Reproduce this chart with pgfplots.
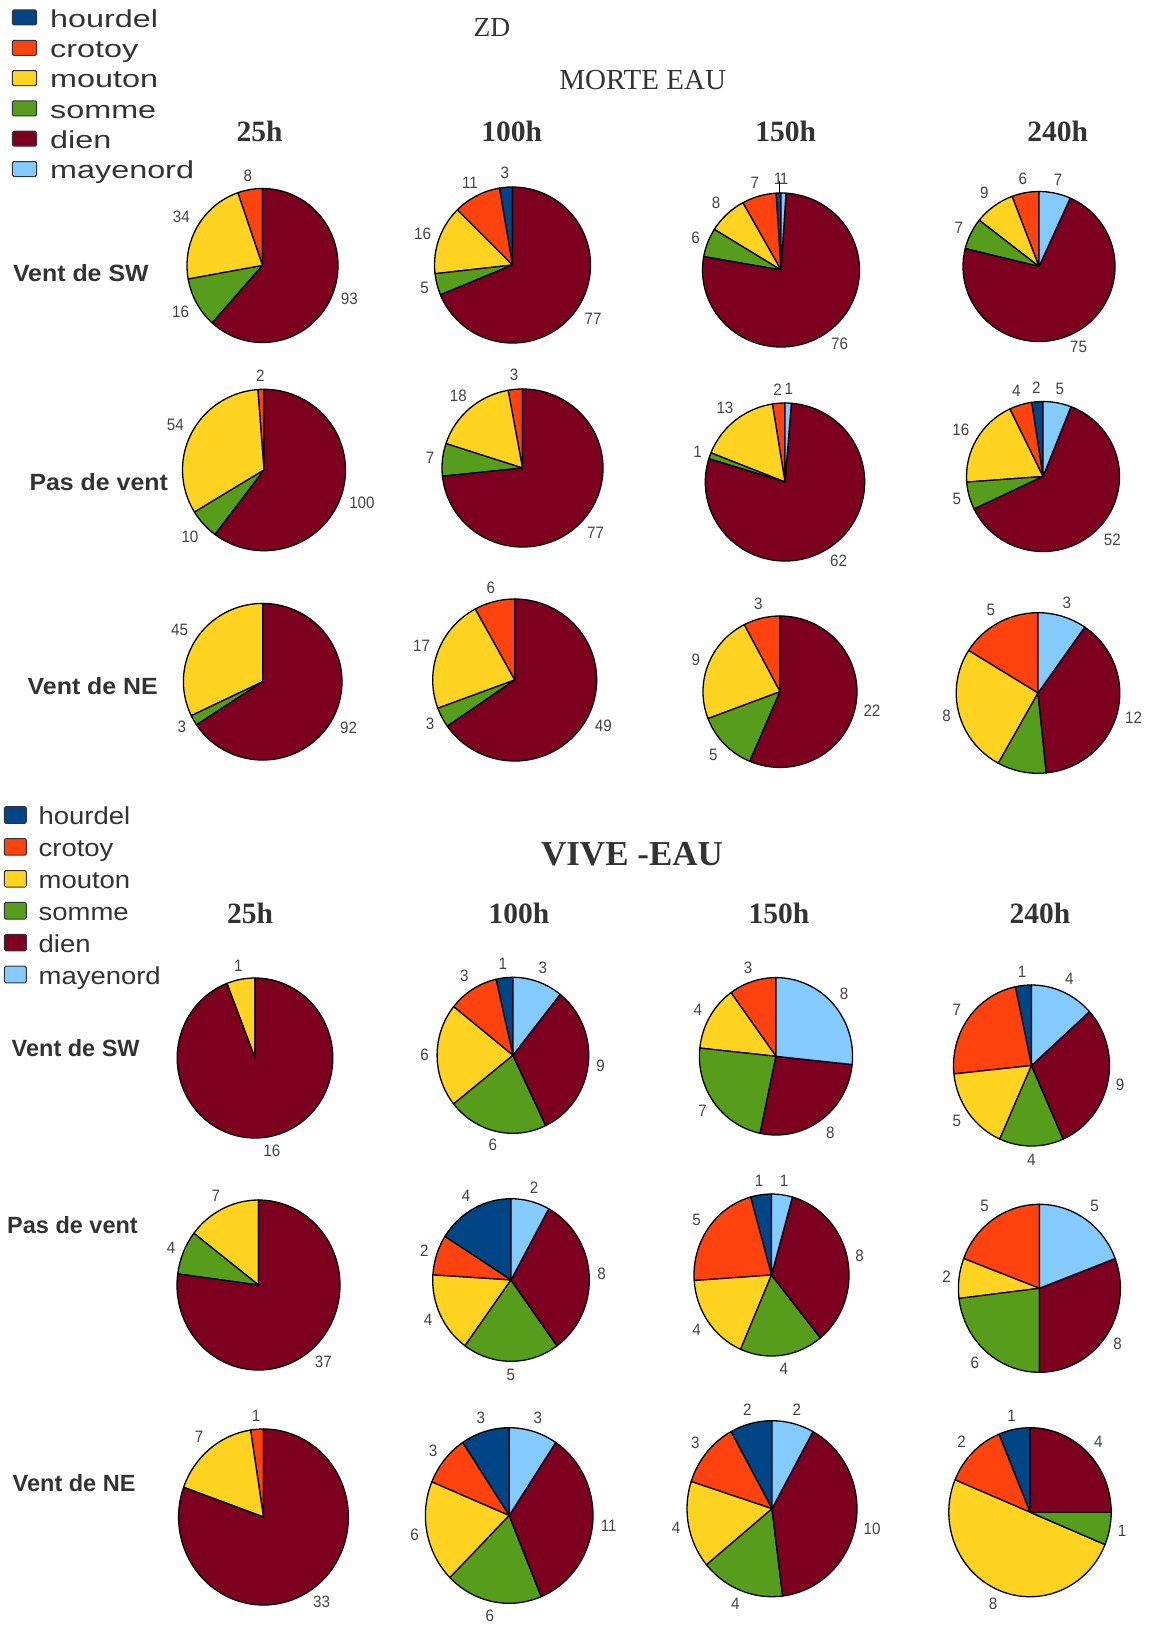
\documentclass[border=0pt]{standalone}
\usepackage{pgfplots}
\pgfplotsset{compat=1.18}
\usepackage{fontspec}
\setmainfont{Liberation Serif}
\newfontfamily\legfont[FakeStretch=1.32]{Liberation Sans}
\newfontfamily\leglfont[FakeStretch=1.12]{Liberation Sans}
\newfontfamily\rowfont[FakeStretch=1.06]{Liberation Sans}
\newfontfamily\rowbfont[FakeStretch=1.0]{Liberation Sans}
\newfontfamily\numfont[FakeStretch=0.92]{Liberation Sans}
\newfontfamily\serif{Liberation Serif}
\definecolor{chourdel}{HTML}{004586}
\definecolor{ccrotoy}{HTML}{FF420E}
\definecolor{cmouton}{HTML}{FFD320}
\definecolor{csomme}{HTML}{579D1C}
\definecolor{cdien}{HTML}{7E0021}
\definecolor{cmayenord}{HTML}{83CAFF}
\definecolor{txt}{HTML}{333333}
\definecolor{numc}{HTML}{444444}

% values: hourdel, crotoy, mouton, somme, dien, mayenord (counter-clockwise from 12 o'clock)
\newcommand{\pie}[6][0]{%
  \gdef\pietotal{0}%
  \foreach \v in {#6}{\pgfmathsetmacro\tmp{\pietotal+\v}\xdef\pietotal{\tmp}}%
  \gdef\pieangle{90}%
  \pgfmathsetmacro\lrx{#4+5}%
  \pgfmathsetmacro\lry{#5+5}%
  \foreach \v [count=\i] in {#6}{%
    \pgfmathsetmacro\sweep{\v/\pietotal*360}%
    \ifdim\sweep pt>0pt
      \pgfmathsetmacro\endang{\pieangle+\sweep}%
      \pgfmathsetmacro\midang{\pieangle+\sweep/2}%
      \pgfmathsetmacro\anc{mod(\midang+180,360)}%
      \edef\col{\ifcase\i\or chourdel\or ccrotoy\or cmouton\or csomme\or cdien\or cmayenord\fi}%
      \filldraw[fill=\col,draw=black,line width=1.3pt,line join=round]
        (axis cs:#2,#3) -- ++(\pieangle:#4pt and #5pt)
        arc[start angle=\pieangle,end angle=\endang,x radius=#4pt,y radius=#5pt] -- cycle;
      \ifnum\i=#1\relax\else
        \path (axis cs:#2,#3) ++(\midang:\lrx pt and \lry pt)
          node[anchor=\anc,inner sep=3pt,text=numc,font=\numfont\fontsize{16.5}{17}\selectfont]{\v};
      \fi
      \xdef\pieangle{\endang}%
    \fi}%
}

\newcommand{\legendblock}[7]{% #1 x0 #2 x1 #3 y first #4 step #5 half height #6 text x #7 font
  \foreach \n/\c [count=\k from 0] in {hourdel/chourdel,crotoy/ccrotoy,mouton/cmouton,somme/csomme,dien/cdien,mayenord/cmayenord}{%
    \pgfmathsetmacro\yy{#3+#4*\k}%
    \pgfmathsetmacro\ya{\yy-#5}%
    \pgfmathsetmacro\yb{\yy+#5}%
    \pgfmathsetmacro\yt{\yy+9.8}%
    \filldraw[fill=\c,draw=txt,line width=1pt,rounded corners=1.5pt] (axis cs:#1,\ya) rectangle (axis cs:#2,\yb);
    \node[anchor=base west,inner sep=0pt,text=txt,font=#7\fontsize{24.5}{25}\selectfont] at (axis cs:#6,\yt) {\n};
  }%
}

\begin{document}
\begin{tikzpicture}
\begin{axis}[x=1pt,y=1pt,scale only axis,xmin=0,xmax=1149,ymin=0,ymax=1627,
  y dir=reverse,hide axis,clip=false]
\pgfplotsextra{
  \path (axis cs:0,0) rectangle (axis cs:1149,1627);
  % ---------- titles ----------
  \node[anchor=base,text=txt,font=\serif\fontsize{27.5}{28}\selectfont] at (axis cs:492,36.7) {ZD};
  \node[anchor=base,text=txt,font=\serif\fontsize{29}{30}\selectfont] at (axis cs:642.7,89.3) {MORTE EAU};
  \node[anchor=base,text=txt,font=\serif\bfseries\fontsize{35}{36}\selectfont] at (axis cs:632,865) {VIVE -EAU};
  % column headers
  \foreach \h/\xx in {25h/259.5,100h/511.7,150h/785.8,240h/1057.7}{
    \node[anchor=base,text=txt,font=\serif\bfseries\fontsize{29.5}{30}\selectfont] at (axis cs:\xx,141.7) {\h};}
  \foreach \h/\xx in {25h/250,100h/519,150h/779,240h/1040}{
    \node[anchor=base,text=txt,font=\serif\bfseries\fontsize{29.5}{30}\selectfont] at (axis cs:\xx,923) {\h};}
  % row labels
  \foreach \t/\xx/\yy in {Vent de SW/12.8/281.7,Pas de vent/29.3/490.7,Vent de NE/27.5/694}{
    \node[anchor=base west,inner sep=0pt,text=txt,font=\rowfont\bfseries\fontsize{23.5}{24}\selectfont] at (axis cs:\xx,\yy) {\t};}
  \foreach \t/\xx/\yy in {Vent de SW/11.5/1056.7,Pas de vent/7/1233.3,Vent de NE/12.5/1491.7}{
    \node[anchor=base west,inner sep=0pt,text=txt,font=\rowbfont\bfseries\fontsize{23.5}{24}\selectfont] at (axis cs:\xx,\yy) {\t};}
  % legends
  \legendblock{12.3}{36.7}{17.5}{30.3}{7.5}{50}{\legfont}
  \legendblock{4.4}{26.4}{815}{31.9}{8.3}{38.5}{\leglfont}
  % ---------- MORTE EAU ----------
  \pie{262.5}{265.5}{75.5}{77}{0,8,34,16,93,0}
  \pie{512.5}{265}{78}{78}{3,11,16,5,77,0}
  \pie{781}{270}{78.5}{77}{1,7,8,6,76,1}
  \draw[line width=1.2pt] (axis cs:779.5,181) -- (axis cs:779.5,193);
  \pie{1039}{266.5}{76}{75}{0,6,9,7,75,7}
  \pie{264}{470}{81.5}{80.7}{0,2,54,10,100,0}
  \pie{522.5}{468}{80.5}{79}{0,3,18,7,77,0}
  \pie{785}{482}{79.7}{79}{0,2,13,1,62,1}
  \pie{1043}{476.5}{76.5}{75}{2,4,16,5,52,5}
  \pie{262.7}{681.7}{79.3}{78.3}{0,0,45,3,92,0}
  \pie{514.7}{680}{82}{81}{0,6,17,3,49,0}
  \pie{780}{691.7}{77}{75.7}{0,3,9,5,22,0}
  \pie[4]{1038}{693}{81.8}{80.3}{0,5,8,3,12,3}
  % ---------- VIVE EAU ----------
  \pie{255}{1058}{77.8}{80}{0,0,1,0,16,0}
  \pie{512.9}{1055.3}{75.8}{78}{1,3,6,6,9,3}
  \pie{776}{1056.3}{76.6}{78.7}{0,3,4,7,8,8}
  \pie{1031.5}{1065.5}{78}{80.5}{1,7,5,4,9,4}
  \pie{258.5}{1285}{81.5}{85}{0,0,7,4,37,0}
  \pie{511}{1280}{78.3}{81.3}{4,2,4,5,8,2}
  \pie{771.5}{1275}{77.5}{81}{1,5,4,4,8,1}
  \pie{1039.4}{1288.3}{81}{84}{0,5,2,6,8,5}
  \pie{263.5}{1517}{84.9}{88}{0,1,7,0,33,0}
  \pie{509.2}{1515.5}{83.8}{87.8}{3,3,6,6,11,3}
  \pie{772}{1508.7}{85}{88}{2,3,4,4,10,2}
  \pie{1030}{1512.2}{81.2}{84.5}{1,2,8,1,4,0}
}
\end{axis}
\end{tikzpicture}
\end{document}
